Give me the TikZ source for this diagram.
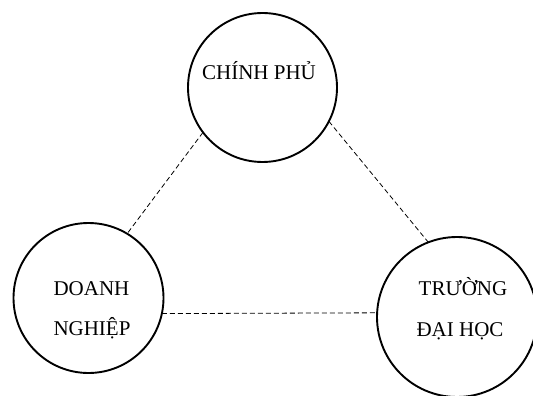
\documentclass[tikz,border=0pt]{standalone}
\usepackage{fontspec}
\setmainfont{Liberation Serif}
\begin{document}
\begin{tikzpicture}[x=1pt,y=-1pt,
  actor/.style={draw=black,line width=1.9pt,circle,inner sep=0pt,outer sep=0pt,fill=white},
  caption/.style={anchor=base,inner sep=0pt,font=\fontsize{21}{21}\selectfont,text=black},
  link/.style={draw=black,line width=0.8pt,dash pattern=on 5pt off 3pt}]
  \useasboundingbox (0,0) rectangle (533,396);
  % the three partners
  \node[actor,minimum size=149pt] (gov) at (262.5,87.5) {};
  \node[actor,minimum size=150pt] (biz) at (88.5,298) {};
  \node[actor,minimum size=160pt] (uni) at (457,317) {};
  % labels
  \node[caption] (govtxt) at (259,80) {CHÍNH PHỦ};
  \node[caption] (biztxtA) at (91.5,295) {DOANH};
  \node[caption] (biztxtB) at (92,335) {NGHIỆP};
  \node[caption] (unitxtA) at (463,295) {TRƯỜNG};
  \node[caption] (unitxtB) at (460,336) {ĐẠI HỌC};
  % dashed links between partners
  \draw[link] (gov.217) -- (biz.59);
  \draw[link] (gov.333.6) -- (uni.111);
  \draw[link] (biz.348.6) -- (uni.177);
\end{tikzpicture}
\end{document}
